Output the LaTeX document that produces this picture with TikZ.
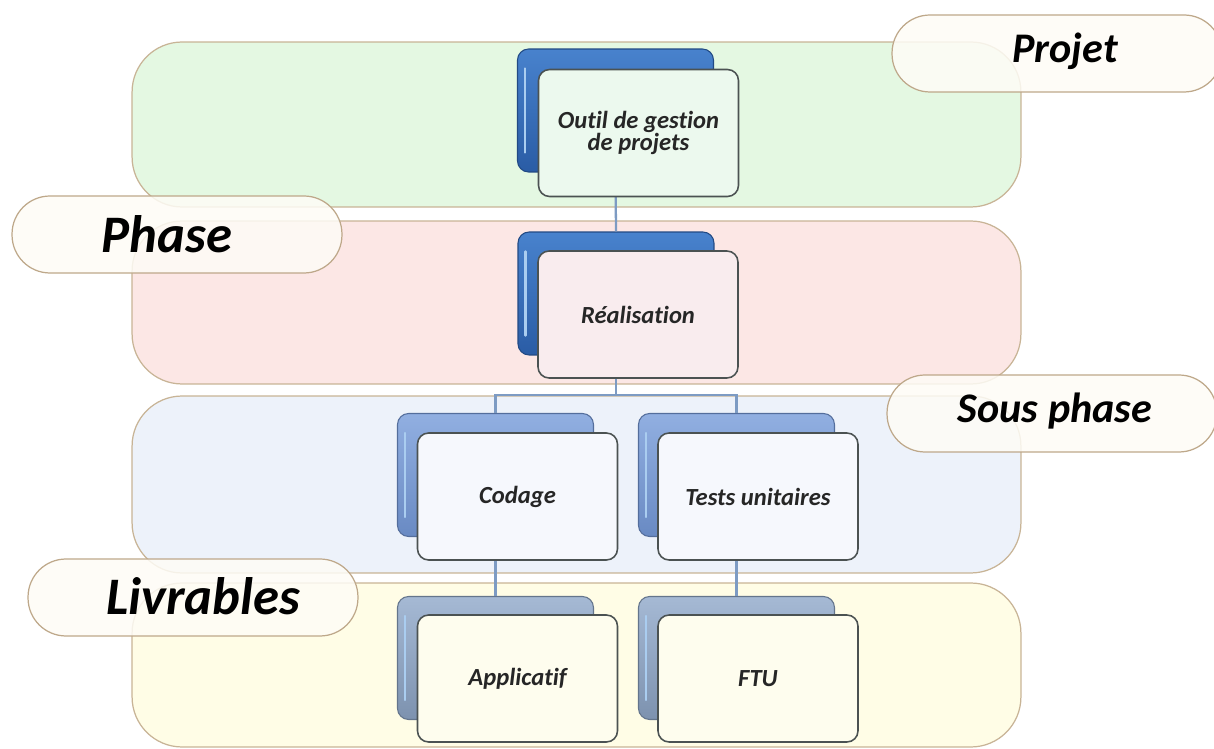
\documentclass[tikz,border=0pt]{standalone}
\usepackage{fontspec}
\setmainfont[Ligatures=NoCommon]{Carlito}
\usetikzlibrary{calc}
\definecolor{bandline}{RGB}{200,180,150}
\definecolor{pillline}{RGB}{190,168,138}
\definecolor{pillfill}{RGB}{254,252,246}
\definecolor{bandgreen}{RGB}{228,248,226}
\definecolor{bandpink}{RGB}{252,231,229}
\definecolor{bandblue}{RGB}{237,242,250}
\definecolor{bandyellow}{RGB}{255,253,230}
\definecolor{darkA}{RGB}{72,130,205}
\definecolor{darkB}{RGB}{42,92,165}
\definecolor{midA}{RGB}{145,175,225}
\definecolor{midB}{RGB}{105,138,195}
\definecolor{greyA}{RGB}{165,185,212}
\definecolor{greyB}{RGB}{125,146,175}
\definecolor{frontline}{RGB}{75,82,82}
\definecolor{frontgreen}{RGB}{236,249,238}
\definecolor{frontpink}{RGB}{249,236,238}
\definecolor{frontblue}{RGB}{246,248,253}
\definecolor{frontyellow}{RGB}{254,253,238}
\definecolor{connline}{RGB}{125,155,195}
\definecolor{hilite}{RGB}{170,205,240}
\begin{document}
\begin{tikzpicture}[x=0.02cm,y=-0.02cm]
\tikzset{
  band/.style={draw=bandline, line width=0.7pt, rounded corners=1cm, minimum width=17.78cm, inner sep=0pt},
  pill/.style={draw=pillline, fill=pillfill, fill opacity=0.85, line width=0.7pt,
    rounded corners=0.76cm, minimum width=6.6cm, minimum height=1.54cm, inner sep=0pt},
  bigtxt/.style={inner sep=0pt, font=\fontsize{30}{34}\selectfont\bfseries\itshape},
  midtxt/.style={inner sep=0pt, font=\fontsize{24}{28}\selectfont\bfseries\itshape},
  backbox/.style={draw=#1B!80!black, line width=0.6pt, top color=#1A, bottom color=#1B,
    rounded corners=0.22cm, minimum width=3.92cm, minimum height=2.46cm, inner sep=0pt},
  frontbox/.style={draw=frontline, line width=0.9pt, fill=#1, rounded corners=0.22cm,
    minimum width=4.0cm, minimum height=2.54cm, inner sep=2pt, align=center,
    font=\fontsize{14}{12.8}\selectfont\bfseries\itshape, text=black!85},
  conn/.style={draw=connline, line width=1.3pt},
  hl/.style={draw=hilite, line width=1.4pt, line cap=round}
}
\useasboundingbox (0,0) rectangle (1214,749);
\fill[white] (0,0) rectangle (1214,749);

% bands
\node[band, fill=bandgreen, minimum height=3.3cm] (bproj) at (576.5,124.5) {};
\node[band, fill=bandpink, minimum height=3.26cm] (bphase) at (576.5,302.5) {};
\node[band, fill=bandblue, minimum height=3.54cm] (bsous) at (576.5,484.5) {};
\node[band, fill=bandyellow, minimum height=3.28cm] (bliv) at (576.5,665) {};

% label pills
\node[pill] (lproj) at (1057,53.5) {};
\node[pill] (lphase) at (177,234.5) {};
\node[pill] (lsous) at (1052,413.5) {};
\node[pill] (lliv) at (193,597.5) {};
\node[midtxt] (tproj) at (1065,51) {Projet};
\node[bigtxt] (tphase) at (167,234) {Phase};
\node[midtxt] (tsous) at (1055,411) {Sous phase};
\node[bigtxt] (tliv) at (203,596) {Livrables};

% back boxes
\node[backbox=dark] (topB) at (615.5,110.5) {};
\node[backbox=dark] (realB) at (616,293.5) {};
\node[backbox=mid] (codB) at (495.5,475) {};
\node[backbox=mid] (tesB) at (736.5,475) {};
\node[backbox=grey] (appB) at (495.5,658) {};
\node[backbox=grey] (ftuB) at (736.5,658) {};

% highlights on back boxes
\foreach \b in {topB,realB,codB,tesB,appB,ftuB}{
  \draw[hl] ($(\b.north west)+(8,20)$) -- ($(\b.south west)+(8,-20)$);
}

% connectors
\coordinate (split) at (616,395);
\draw[conn] (topB.south) -- (realB.north);
\draw[conn] (realB.south) -- (split) -| (codB.north);
\draw[conn] (split) -| (tesB.north);
\draw[conn] (codB.south) -- (appB.north);
\draw[conn] (tesB.south) -- (ftuB.north);

% front boxes
\node[frontbox=frontgreen] (topF) at (638.5,133) {Outil de gestion\\de projets};
\node[frontbox=frontpink] (realF) at (638,314.5) {Réalisation};
\node[frontbox=frontblue] (codF) at (517.5,496.5) {Codage};
\node[frontbox=frontblue] (tesF) at (758,496.5) {Tests unitaires};
\node[frontbox=frontyellow] (appF) at (517.5,678.5) {Applicatif};
\node[frontbox=frontyellow] (ftuF) at (758,678.5) {FTU};
\end{tikzpicture}
\end{document}
